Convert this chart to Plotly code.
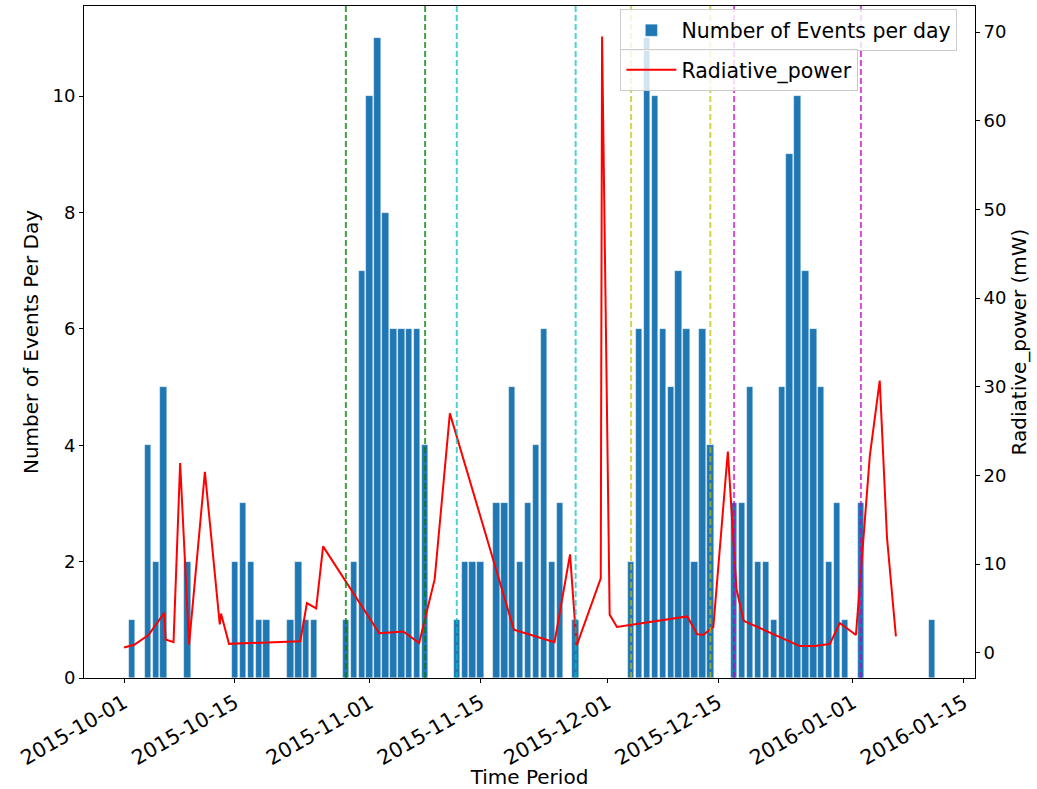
import plotly.graph_objects as go

# Daily event counts
event_dates = [
    "2015-10-02", "2015-10-04", "2015-10-05", "2015-10-06", "2015-10-09",
    "2015-10-15", "2015-10-16", "2015-10-17", "2015-10-18", "2015-10-19",
    "2015-10-22", "2015-10-23", "2015-10-24", "2015-10-25", "2015-10-29",
    "2015-10-30", "2015-10-31", "2015-11-01", "2015-11-02", "2015-11-03",
    "2015-11-04", "2015-11-05", "2015-11-06", "2015-11-07", "2015-11-08",
    "2015-11-12", "2015-11-13", "2015-11-14", "2015-11-15", "2015-11-17",
    "2015-11-18", "2015-11-19", "2015-11-20", "2015-11-21", "2015-11-22",
    "2015-11-23", "2015-11-24", "2015-11-25", "2015-11-27", "2015-12-04",
    "2015-12-05", "2015-12-06", "2015-12-07", "2015-12-08", "2015-12-09",
    "2015-12-10", "2015-12-11", "2015-12-12", "2015-12-13", "2015-12-14",
    "2015-12-17", "2015-12-18", "2015-12-19", "2015-12-20", "2015-12-21",
    "2015-12-22", "2015-12-23", "2015-12-24", "2015-12-25", "2015-12-26",
    "2015-12-27", "2015-12-28", "2015-12-29", "2015-12-30", "2015-12-31",
    "2016-01-02", "2016-01-11",
]
event_counts = [
    1, 4, 2, 5, 2,
    2, 3, 2, 1, 1,
    1, 2, 1, 1, 1,
    2, 7, 10, 11, 8,
    6, 6, 6, 6, 4,
    1, 2, 2, 2, 3,
    3, 5, 2, 3, 4,
    6, 2, 3, 1, 2,
    6, 11, 10, 6, 5,
    7, 6, 2, 6, 4,
    3, 3, 5, 2, 2,
    1, 5, 9, 10, 7,
    6, 5, 2, 3, 1,
    3, 1,
]

# Radiative power measurements (mW)
power_times = [
    "2015-10-01 00:00", "2015-10-02 07:00", "2015-10-04 02:00", "2015-10-06 02:00",
    "2015-10-06 06:00", "2015-10-07 06:00", "2015-10-08 02:00", "2015-10-09 05:00",
    "2015-10-11 05:00", "2015-10-13 02:00", "2015-10-13 06:00", "2015-10-14 06:00",
    "2015-10-23 06:00", "2015-10-24 02:00", "2015-10-25 06:00", "2015-10-26 03:00",
    "2015-11-02 05:00", "2015-11-05 06:00", "2015-11-07 06:00", "2015-11-09 05:00",
    "2015-11-11 03:00", "2015-11-19 05:00", "2015-11-24 08:00", "2015-11-26 07:00",
    "2015-11-27 03:00", "2015-11-30 04:00", "2015-11-30 08:00", "2015-12-01 07:00",
    "2015-12-02 05:00", "2015-12-11 02:00", "2015-12-12 08:00", "2015-12-13 02:00",
    "2015-12-14 09:00", "2015-12-16 05:00", "2015-12-17 07:00", "2015-12-18 05:00",
    "2015-12-25 07:00", "2015-12-27 05:00", "2015-12-29 02:00", "2015-12-30 08:00",
    "2016-01-01 09:00", "2016-01-03 03:00", "2016-01-04 09:00", "2016-01-05 07:00",
    "2016-01-06 10:00",
]
power_values = [
    0.6, 0.9, 2.0, 4.5,
    1.5, 1.2, 21.4, 0.9,
    20.4, 3.2, 4.4, 1.0,
    1.3, 5.6, 5.0, 12.0,
    2.2, 2.4, 1.1, 8.3,
    27.0, 2.6, 1.2, 11.1,
    0.8, 8.4, 69.5, 4.3,
    2.9, 4.1, 2.1, 2.0,
    2.9, 22.7, 7.2, 3.6,
    0.75, 0.75, 1.0, 3.35,
    2.0, 22.2, 30.7, 13.0,
    1.85,
]

# Period boundaries (dashed vertical markers), paired by colour
period_dates = [
    "2015-10-29", "2015-11-08",
    "2015-11-12", "2015-11-27",
    "2015-12-04", "2015-12-14",
    "2015-12-17", "2016-01-02",
]
period_colors = [
    "rgba(0,128,0,0.75)", "rgba(0,128,0,0.75)",
    "rgba(0,191,191,0.7)", "rgba(0,191,191,0.7)",
    "rgba(191,191,0,0.7)", "rgba(191,191,0,0.7)",
    "rgba(191,0,191,0.7)", "rgba(191,0,191,0.7)",
]

tick_dates = [
    "2015-10-01", "2015-10-15", "2015-11-01", "2015-11-15",
    "2015-12-01", "2015-12-15", "2016-01-01", "2016-01-15",
]

FONT = "DejaVu Sans"
DAY_MS = 86400000

fig = go.Figure()

fig.add_trace(go.Bar(
    x=event_dates,
    y=event_counts,
    width=[0.8 * DAY_MS] * len(event_dates),
    marker=dict(color="#1f77b4", line=dict(width=0.6, color="rgba(255,255,255,0.5)")),
    name="Number of Events per day",
    legend="legend",
    yaxis="y",
))

fig.add_trace(go.Scatter(
    x=power_times,
    y=power_values,
    mode="lines",
    line=dict(color="#ff0000", width=2),
    name="Radiative_power",
    legend="legend2",
    yaxis="y2",
))

for d, c in zip(period_dates, period_colors):
    fig.add_shape(
        type="line", xref="x", yref="paper",
        x0=d, x1=d, y0=0, y1=1,
        line=dict(color=c, width=2, dash="6px,3px"),
        layer="above",
    )

axis_common = dict(
    showline=True, linecolor="black", linewidth=1,
    ticks="outside", ticklen=4, tickwidth=1, tickcolor="black",
    showgrid=False, zeroline=False, automargin=False,
)

legend_common = dict(
    bgcolor="rgba(255,255,255,0.8)",
    bordercolor="#cccccc",
    borderwidth=1,
    font=dict(family=FONT, size=20.5, color="black"),
    itemwidth=50,
    xanchor="left",
    yanchor="top",
    tracegroupgap=0,
)

fig.update_layout(
    width=1037,
    height=789,
    margin=dict(l=84, r=62, t=6, b=111),
    plot_bgcolor="white",
    paper_bgcolor="white",
    font=dict(family=FONT, size=18, color="black"),
    showlegend=True,
    bargap=0,
    xaxis=dict(
        **axis_common,
        mirror=True,
        type="date",
        range=["2015-09-25 22:48", "2016-01-16 09:36"],
        tickvals=tick_dates,
        ticktext=tick_dates,
        tickangle=-30,
        tickfont=dict(family=FONT, size=20.5, color="black"),
        title=dict(text="Time Period", font=dict(family=FONT, size=20, color="black"), standoff=0),
    ),
    yaxis=dict(
        **axis_common,
        range=[0, 11.55],
        tickvals=[0, 2, 4, 6, 8, 10],
        tickfont=dict(family=FONT, size=18, color="black"),
        title=dict(text="Number of Events Per Day", font=dict(family=FONT, size=20, color="black"), standoff=8),
    ),
    yaxis2=dict(
        **axis_common,
        overlaying="y",
        side="right",
        range=[-2.85, 72.95],
        tickvals=[0, 10, 20, 30, 40, 50, 60, 70],
        tickfont=dict(family=FONT, size=18, color="black"),
        title=dict(text="Radiative_power (mW)", font=dict(family=FONT, size=20, color="black"), standoff=6),
    ),
    legend=dict(**legend_common, x=0.602, y=0.995),
    legend2=dict(**legend_common, x=0.602, y=0.936),
)

fig.write_html("out.html", config={"displayModeBar": False})
